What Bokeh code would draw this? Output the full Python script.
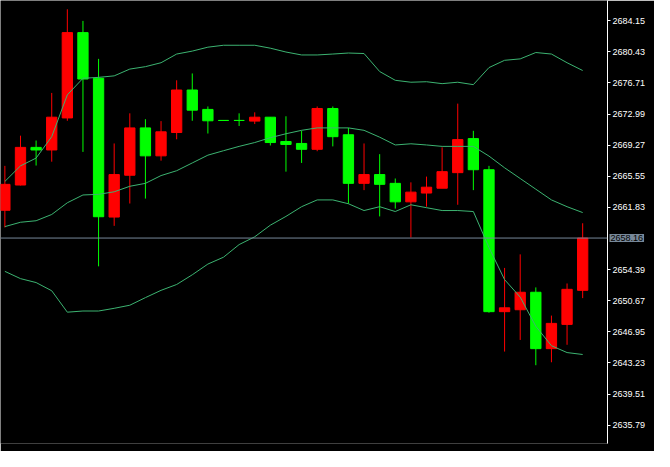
from bokeh.plotting import figure
from bokeh.models import Range1d, FixedTicker, LinearAxis, Span, Label, PrintfTickFormatter
from bokeh.embed import file_html
from bokeh.resources import INLINE

# ---- data ----
opens = [2661.48, 2664.50, 2669.00, 2668.69, 2672.52, 2682.72, 2677.26, 2660.67, 2665.67, 2671.33,
         2667.99, 2670.78, 2675.86, 2673.54, 2672.22, 2672.22, 2672.14, 2672.61, 2669.70, 2669.47,
         2668.77, 2673.65, 2670.51, 2664.70, 2665.75, 2664.70, 2662.49, 2663.54, 2664.12, 2665.98,
         2670.05, 2666.33, 2649.36, 2649.59, 2651.68, 2644.94, 2647.84, 2651.91]
highs = [2666.79, 2670.40, 2669.82, 2675.51, 2685.51, 2684.12, 2679.58, 2669.47, 2673.07, 2672.37,
         2672.14, 2677.02, 2677.84, 2673.89, 2672.22, 2673.07, 2673.19, 2672.61, 2672.72, 2670.98,
         2673.89, 2673.89, 2671.33, 2669.47, 2668.19, 2665.28, 2664.82, 2665.51, 2669.00, 2674.23,
         2670.98, 2666.79, 2654.59, 2656.21, 2652.26, 2648.89, 2652.73, 2659.93]
lows = [2659.43, 2664.45, 2666.83, 2667.29, 2672.18, 2668.46, 2654.78, 2659.62, 2662.29, 2662.88,
        2667.41, 2669.97, 2672.18, 2670.66, 2672.22, 2671.56, 2671.79, 2669.23, 2666.10, 2667.14,
        2668.54, 2669.12, 2662.26, 2663.89, 2660.75, 2661.68, 2658.23, 2661.91, 2664.12, 2662.14,
        2663.89, 2649.24, 2644.59, 2645.98, 2642.96, 2643.31, 2645.40, 2650.98]
closes = [2664.58, 2669.00, 2668.69, 2672.61, 2682.72, 2677.17, 2660.71, 2665.75, 2671.33, 2667.99,
          2670.86, 2675.86, 2673.45, 2672.18, 2672.22, 2672.22, 2672.61, 2669.58, 2669.35, 2668.77,
          2673.65, 2670.28, 2664.70, 2665.75, 2664.58, 2662.49, 2663.65, 2664.24, 2666.10, 2669.93,
          2666.33, 2649.36, 2649.82, 2651.68, 2644.94, 2647.96, 2652.03, 2658.16]

upper = [2664.93, 2666.79, 2667.72, 2670.28, 2675.28, 2677.26, 2677.37, 2677.55, 2678.36, 2678.65,
         2679.12, 2680.16, 2680.51, 2680.98, 2681.21, 2681.21, 2681.21, 2680.86, 2680.40, 2680.05,
         2680.05, 2680.16, 2680.28, 2680.22, 2678.07, 2677.02, 2676.79, 2676.85, 2676.62, 2676.79,
         2676.50, 2678.54, 2679.41, 2679.58, 2680.34, 2680.16, 2679.12, 2678.19]
middle = [2659.53, 2660.05, 2660.23, 2660.98, 2662.38, 2663.31, 2663.39, 2663.69, 2664.35, 2664.70,
          2665.63, 2666.21, 2667.14, 2668.07, 2668.60, 2669.12, 2669.58, 2670.16, 2670.63, 2671.04,
          2671.33, 2671.33, 2671.33, 2671.04, 2670.22, 2669.29, 2669.43, 2669.29, 2669.12, 2669.12,
          2669.12, 2667.96, 2666.56, 2665.28, 2664.00, 2662.72, 2661.91, 2661.21]
lower = [2654.18, 2653.31, 2652.84, 2651.86, 2649.30, 2649.44, 2649.44, 2649.76, 2650.13, 2651.04,
         2651.91, 2652.61, 2653.77, 2655.05, 2655.87, 2657.38, 2658.31, 2659.70, 2660.75, 2661.91,
         2662.72, 2662.72, 2662.26, 2661.45, 2661.91, 2661.33, 2662.14, 2661.79, 2661.45, 2661.45,
         2661.33, 2657.03, 2653.19, 2651.10, 2647.61, 2645.29, 2644.47, 2644.24]

last_price = 2658.16
tick_values = [2684.15, 2680.43, 2676.71, 2672.99, 2669.27, 2665.55, 2661.83,
               2654.39, 2650.67, 2646.95, 2643.23, 2639.51, 2635.79, 2632.07]

idx = list(range(len(opens)))
colors = ["#ff0000" if c > o else "#00ff00" for o, c in zip(opens, closes)]
tops = [max(o, c) for o, c in zip(opens, closes)]
bottoms = [min(o, c) for o, c in zip(opens, closes)]

p = figure(width=654, height=451, output_backend="svg", toolbar_location=None,
           x_range=Range1d(-0.28, 38.59), y_range=Range1d(2633.6, 2686.56),
           background_fill_color="black", border_fill_color="black",
           min_border_left=0, min_border_top=0, min_border_bottom=0, min_border_right=47,
           x_axis_location=None, y_axis_location=None)
p.grid.visible = False
p.outline_line_color = None

# wicks
p.segment(x0=idx, y0=lows, x1=idx, y1=highs, line_color=colors, line_width=1)
# bodies
p.vbar(x=idx, top=tops, bottom=bottoms, width=0.66, fill_color=colors, line_color=colors, line_width=1)

# Bollinger bands
band_color = "#3cb371"
p.line(idx, upper, line_color=band_color, line_width=1)
p.line(idx, middle, line_color=band_color, line_width=1)
p.line(idx, lower, line_color=band_color, line_width=1)

# current price line
p.add_layout(Span(location=last_price, dimension="width", line_color="#778899", line_width=1))

ax = LinearAxis(ticker=FixedTicker(ticks=tick_values), formatter=PrintfTickFormatter(format="%.2f"))
ax.axis_line_color = "white"
ax.major_tick_line_color = "white"
ax.major_tick_out = 3
ax.major_tick_in = 0
ax.minor_tick_line_color = None
ax.major_label_text_color = "white"
ax.major_label_text_font = "Liberation Sans"
ax.major_label_text_font_size = "9px"
ax.major_label_standoff = 2
p.add_layout(ax, "right")

# last-price box: held by the bottom side panel so it is not clipped to the frame,
# but positioned with data coordinates next to the price axis
lbl = Label(x=38.59, y=last_price, text="%.2f" % last_price, x_offset=2,
            text_align="left", text_baseline="middle", text_color="black",
            text_font="Liberation Sans", text_font_size="9px",
            background_fill_color="#778899", padding=1)
p.add_layout(lbl, "below")

open("out.html", "w").write(file_html(p, INLINE))
